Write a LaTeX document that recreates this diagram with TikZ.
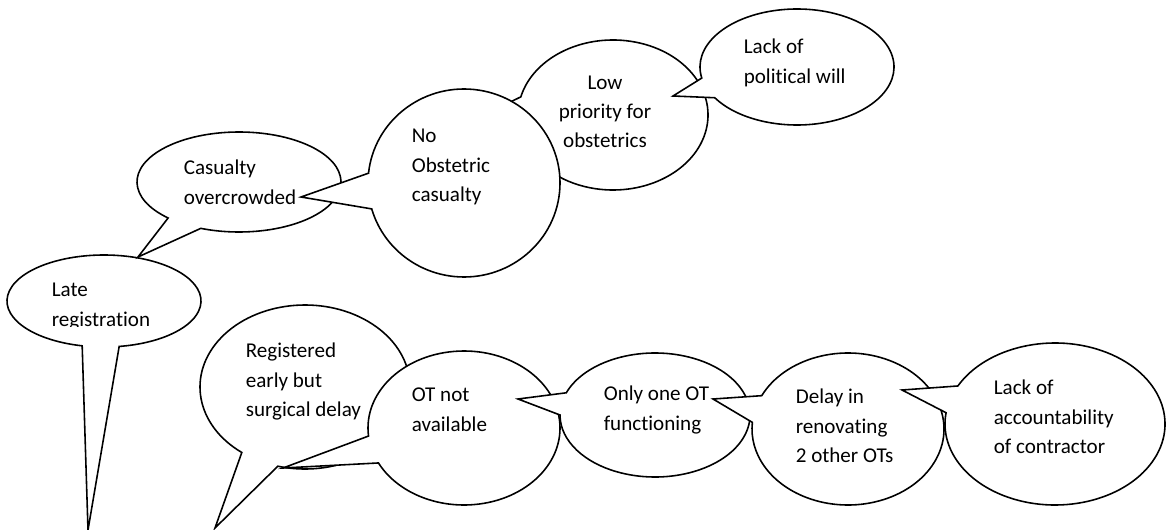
\documentclass[tikz,border=0pt]{standalone}
\usepackage{fontspec}
\setmainfont[Ligatures=NoCommon]{Carlito}

\begin{document}
\begin{tikzpicture}[x=0.02cm, y=-0.02cm, line width=0.9pt,
  bubble/.style={draw=black, fill=white, line join=miter},
  txt/.style={align=left, anchor=north west, inner sep=0pt, font=\fontsize{12}{16.7}\selectfont}]
\useasboundingbox (0,0) rectangle (1166,530);
\foreach \cx/\cy/\rx/\ry/\ta/\tb/\px/\py in {
  104/301/97/46/81/103/88/530,
  239/182/102/50/112/134/138/257,
  613/115/95/75/160/194/478/118,
  797/67/97/58/148/169/673/96,
  464/183/96/94/164/186/301/197,
  305/387/105/82/105/127/215/528,
  464/428/96/77/153/174/283/468,
  655/415/95/62/180/201/518/399,
  848/429/96/76/185/206/713/399,
  1055/424/110/81/188/208/902/390}
  \filldraw[bubble] (\cx,\cy) ++({\rx*cos(\tb)},{\ry*sin(\tb)}) arc[start angle=\tb, end angle=\ta+360, x radius=\rx, y radius=\ry] -- (\px,\py) -- cycle;

\begin{scope}
\clip (0,0) rectangle (1166,326);
\node[txt] (late) at (51,282.5) {Late\\registration};
\end{scope}
\node[txt] (crowd) at (183,159.5) {Casualty\\overcrowded};
\node[txt] (noobs) at (411,128.5) {No\\Obstetric\\casualty};
\node[txt, align=center, anchor=north] (lowprio) at (605,75) {Low\\priority for\\obstetrics};
\node[txt] (will) at (743,38.5) {Lack of\\political will};
\node[txt] (early) at (245,342.5) {Registered\\early but\\surgical delay};
\node[txt] (notavail) at (411,387.5) {OT not\\available};
\node[txt] (oneot) at (603,385.5) {Only one OT\\functioning};
\node[txt] (renov) at (795,388.5) {Delay in\\renovating\\2 other OTs};
\node[txt] (account) at (993,379.5) {Lack of\\accountability\\of contractor};
\end{tikzpicture}
\end{document}
